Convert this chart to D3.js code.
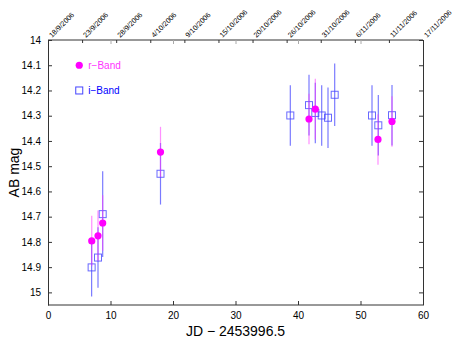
<!DOCTYPE html>
<html><head><meta charset="utf-8">
<script src="https://cdn.jsdelivr.net/npm/d3@7"></script>
<style>body{margin:0;background:#fff}svg{font-family:"Liberation Sans",Arial,sans-serif}</style>
</head><body>
<script>
const rJD  = [7.0, 8.0, 8.75, 18.0, 41.76, 42.77, 52.8, 55.04];
const rMag = [14.796, 14.776, 14.725, 14.444, 14.313, 14.274, 14.394, 14.323];
const rErr = [0.10, 0.10, 0.11, 0.10, 0.10, 0.12, 0.10, 0.10];
const iJD  = [6.98, 8.0, 8.75, 18.0, 38.77, 41.76, 42.77, 43.79, 44.8, 45.87, 51.84, 52.85, 55.04];
const iMag = [14.901, 14.862, 14.69, 14.53, 14.299, 14.258, 14.289, 14.299, 14.308, 14.217, 14.299, 14.338, 14.298];
const iErr = [0.115, 0.12, 0.17, 0.122, 0.12, 0.12, 0.12, 0.12, 0.12, 0.124, 0.12, 0.12, 0.12];
const dateLabels = ["18/9/2006","23/9/2006","28/9/2006","4/10/2006","9/10/2006","15/10/2006","20/10/2006","26/10/2006","31/10/2006","6/11/2006","11/11/2006","17/11/2006"];
const yTicks = [14,14.1,14.2,14.3,14.4,14.5,14.6,14.7,14.8,14.9,15];
const xTicks = [0,10,20,30,40,50,60];

const W=463,H=340, L=48, R=423, T=40, B=305;
const svg=d3.select("body").append("svg").attr("width",W).attr("height",H);
const x=d3.scaleLinear().domain([0,60]).range([L,R]);
const y=d3.scaleLinear().domain([14,15.05]).range([T,B]);
const ax="#333";

// axes
const gb=svg.append("g").attr("transform",`translate(0,${B})`)
  .call(d3.axisBottom(x).tickValues(xTicks).tickSizeInner(-4).tickSizeOuter(0).tickPadding(7).tickFormat(d3.format("d")));
const gt=svg.append("g").attr("transform",`translate(0,${T})`)
  .call(d3.axisTop(x).tickValues(xTicks).tickSizeInner(-4).tickSizeOuter(0).tickFormat(""));
const gl=svg.append("g").attr("transform",`translate(${L},0)`)
  .call(d3.axisLeft(y).tickValues(yTicks).tickSizeInner(-4).tickSizeOuter(0).tickPadding(7).tickFormat(d=>d3.format("")(+d.toFixed(1))));
const gr=svg.append("g").attr("transform",`translate(${R},0)`)
  .call(d3.axisRight(y).tickValues(yTicks).tickSizeInner(-4).tickSizeOuter(0).tickFormat(""));
[gb,gt,gl,gr].forEach(g=>{g.selectAll("path,line").attr("stroke",ax);g.selectAll("text").attr("font-size",10).attr("fill","#000");});
gt.selectAll(".tick line").attr("stroke","#aaa");
gb.select(".domain").attr("d",`M${L},0H${R}`);
gt.select(".domain").attr("d",`M${L},0H${R}`);

// top date ticks + labels
const dateVals = dateLabels.map((d,i)=>i*60/11);
const gd=svg.append("g").attr("transform",`translate(0,${T})`)
  .call(d3.axisTop(x).tickValues(dateVals).tickSizeInner(-3).tickSizeOuter(0).tickFormat(""));
gd.select(".domain").remove();
gd.selectAll("line").attr("stroke",ax);
dateLabels.forEach((d,i)=>{
  svg.append("text").attr("transform",`translate(${x(dateVals[i])+4},${T-2}) rotate(-45)`)
    .attr("font-size",7.2).attr("fill","#000").text(d);
});

// axis titles
svg.append("text").attr("x",(L+R)/2).attr("y",336).attr("text-anchor","middle").attr("font-size",14).text("JD − 2453996.5");
svg.append("text").attr("transform",`translate(19,${(T+B)/2}) rotate(-90)`).attr("text-anchor","middle").attr("font-size",14).text("AB mag");

// error bars
const gi=svg.append("g");
iJD.forEach((v,k)=>{
  gi.append("line").attr("x1",x(v)).attr("x2",x(v)).attr("y1",y(iMag[k]-iErr[k])).attr("y2",y(iMag[k]+iErr[k]))
    .attr("stroke","#3333ff").attr("stroke-opacity",0.65).attr("stroke-width",1.2);
});
const gR=svg.append("g");
rJD.forEach((v,k)=>{
  gR.append("line").attr("x1",x(v)).attr("x2",x(v)).attr("y1",y(rMag[k]-rErr[k])).attr("y2",y(rMag[k]+rErr[k]))
    .attr("stroke","#ff33ff").attr("stroke-opacity",0.55).attr("stroke-width",1.2);
});
// squares
iJD.forEach((v,k)=>{
  gi.append("rect").attr("x",x(v)-3.5).attr("y",y(iMag[k])-3.5).attr("width",7).attr("height",7)
    .attr("fill","none").attr("stroke","#4444ff").attr("stroke-opacity",0.8).attr("stroke-width",1);
});
rJD.forEach((v,k)=>{
  gR.append("circle").attr("cx",x(v)).attr("cy",y(rMag[k])).attr("r",3.6).attr("fill","#ff00ff");
});

// legend
svg.append("circle").attr("cx",x(5)).attr("cy",y(14.1)).attr("r",3.6).attr("fill","#ff00ff");
svg.append("text").attr("x",x(5)+9).attr("y",y(14.1)+4).attr("font-size",10).attr("fill","#ff33ff").text("r−Band");
svg.append("rect").attr("x",x(5)-3.5).attr("y",y(14.2)-3.5).attr("width",7).attr("height",7)
  .attr("fill","none").attr("stroke","#4444ff").attr("stroke-width",1);
svg.append("text").attr("x",x(5)+9).attr("y",y(14.2)+4).attr("font-size",10).attr("fill","#0000ff").text("i−Band");
</script>
</body></html>
